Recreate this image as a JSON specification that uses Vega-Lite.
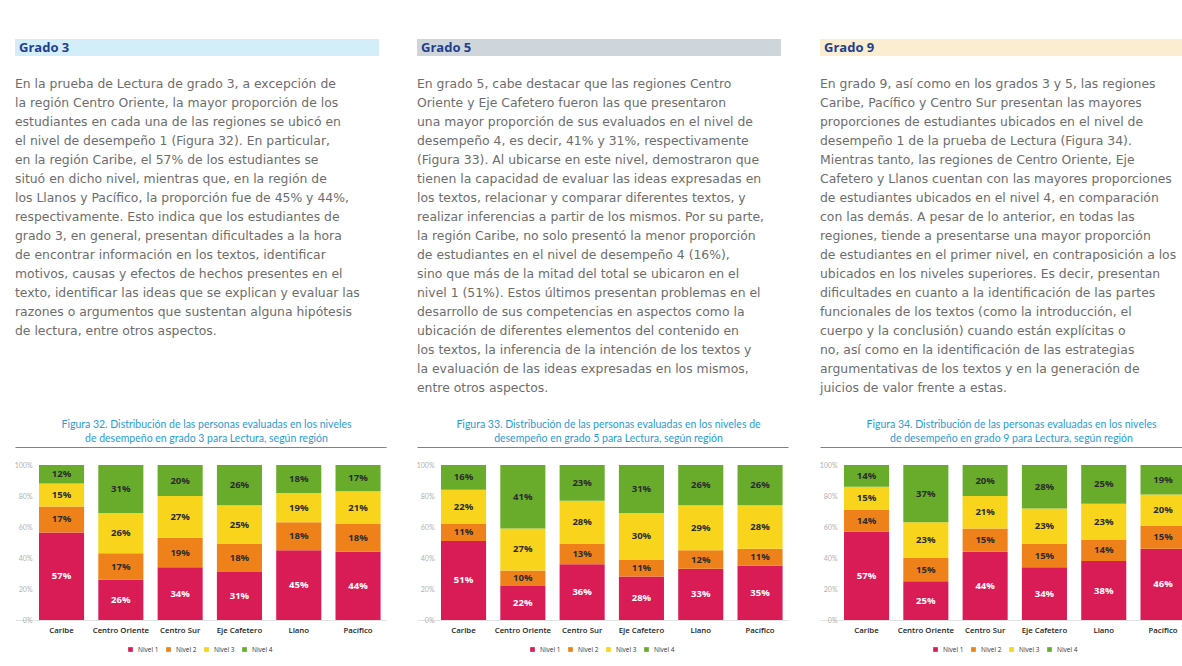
{
  "$schema": "https://vega.github.io/schema/vega-lite/v6.json",
  "background": "white",
  "padding": {"left": 14, "top": 39, "right": 0, "bottom": 0},
  "config": {"view": {"stroke": null}, "font": "Open Sans", "legend": {"layout": {"bottom": {"anchor": "middle"}}}},
  "datasets": {
    "d": [
      {"grado": 3, "region": "Caribe", "nivel": "Nivel 1", "pct": 57},
      {"grado": 3, "region": "Caribe", "nivel": "Nivel 2", "pct": 17},
      {"grado": 3, "region": "Caribe", "nivel": "Nivel 3", "pct": 15},
      {"grado": 3, "region": "Caribe", "nivel": "Nivel 4", "pct": 12},
      {"grado": 3, "region": "Centro Oriente", "nivel": "Nivel 1", "pct": 26},
      {"grado": 3, "region": "Centro Oriente", "nivel": "Nivel 2", "pct": 17},
      {"grado": 3, "region": "Centro Oriente", "nivel": "Nivel 3", "pct": 26},
      {"grado": 3, "region": "Centro Oriente", "nivel": "Nivel 4", "pct": 31},
      {"grado": 3, "region": "Centro Sur", "nivel": "Nivel 1", "pct": 34},
      {"grado": 3, "region": "Centro Sur", "nivel": "Nivel 2", "pct": 19},
      {"grado": 3, "region": "Centro Sur", "nivel": "Nivel 3", "pct": 27},
      {"grado": 3, "region": "Centro Sur", "nivel": "Nivel 4", "pct": 20},
      {"grado": 3, "region": "Eje Cafetero", "nivel": "Nivel 1", "pct": 31},
      {"grado": 3, "region": "Eje Cafetero", "nivel": "Nivel 2", "pct": 18},
      {"grado": 3, "region": "Eje Cafetero", "nivel": "Nivel 3", "pct": 25},
      {"grado": 3, "region": "Eje Cafetero", "nivel": "Nivel 4", "pct": 26},
      {"grado": 3, "region": "Llano", "nivel": "Nivel 1", "pct": 45},
      {"grado": 3, "region": "Llano", "nivel": "Nivel 2", "pct": 18},
      {"grado": 3, "region": "Llano", "nivel": "Nivel 3", "pct": 19},
      {"grado": 3, "region": "Llano", "nivel": "Nivel 4", "pct": 18},
      {"grado": 3, "region": "Pacífico", "nivel": "Nivel 1", "pct": 44},
      {"grado": 3, "region": "Pacífico", "nivel": "Nivel 2", "pct": 18},
      {"grado": 3, "region": "Pacífico", "nivel": "Nivel 3", "pct": 21},
      {"grado": 3, "region": "Pacífico", "nivel": "Nivel 4", "pct": 17},
      {"grado": 5, "region": "Caribe", "nivel": "Nivel 1", "pct": 51},
      {"grado": 5, "region": "Caribe", "nivel": "Nivel 2", "pct": 11},
      {"grado": 5, "region": "Caribe", "nivel": "Nivel 3", "pct": 22},
      {"grado": 5, "region": "Caribe", "nivel": "Nivel 4", "pct": 16},
      {"grado": 5, "region": "Centro Oriente", "nivel": "Nivel 1", "pct": 22},
      {"grado": 5, "region": "Centro Oriente", "nivel": "Nivel 2", "pct": 10},
      {"grado": 5, "region": "Centro Oriente", "nivel": "Nivel 3", "pct": 27},
      {"grado": 5, "region": "Centro Oriente", "nivel": "Nivel 4", "pct": 41},
      {"grado": 5, "region": "Centro Sur", "nivel": "Nivel 1", "pct": 36},
      {"grado": 5, "region": "Centro Sur", "nivel": "Nivel 2", "pct": 13},
      {"grado": 5, "region": "Centro Sur", "nivel": "Nivel 3", "pct": 28},
      {"grado": 5, "region": "Centro Sur", "nivel": "Nivel 4", "pct": 23},
      {"grado": 5, "region": "Eje Cafetero", "nivel": "Nivel 1", "pct": 28},
      {"grado": 5, "region": "Eje Cafetero", "nivel": "Nivel 2", "pct": 11},
      {"grado": 5, "region": "Eje Cafetero", "nivel": "Nivel 3", "pct": 30},
      {"grado": 5, "region": "Eje Cafetero", "nivel": "Nivel 4", "pct": 31},
      {"grado": 5, "region": "Llano", "nivel": "Nivel 1", "pct": 33},
      {"grado": 5, "region": "Llano", "nivel": "Nivel 2", "pct": 12},
      {"grado": 5, "region": "Llano", "nivel": "Nivel 3", "pct": 29},
      {"grado": 5, "region": "Llano", "nivel": "Nivel 4", "pct": 26},
      {"grado": 5, "region": "Pacífico", "nivel": "Nivel 1", "pct": 35},
      {"grado": 5, "region": "Pacífico", "nivel": "Nivel 2", "pct": 11},
      {"grado": 5, "region": "Pacífico", "nivel": "Nivel 3", "pct": 28},
      {"grado": 5, "region": "Pacífico", "nivel": "Nivel 4", "pct": 26},
      {"grado": 9, "region": "Caribe", "nivel": "Nivel 1", "pct": 57},
      {"grado": 9, "region": "Caribe", "nivel": "Nivel 2", "pct": 14},
      {"grado": 9, "region": "Caribe", "nivel": "Nivel 3", "pct": 15},
      {"grado": 9, "region": "Caribe", "nivel": "Nivel 4", "pct": 14},
      {"grado": 9, "region": "Centro Oriente", "nivel": "Nivel 1", "pct": 25},
      {"grado": 9, "region": "Centro Oriente", "nivel": "Nivel 2", "pct": 15},
      {"grado": 9, "region": "Centro Oriente", "nivel": "Nivel 3", "pct": 23},
      {"grado": 9, "region": "Centro Oriente", "nivel": "Nivel 4", "pct": 37},
      {"grado": 9, "region": "Centro Sur", "nivel": "Nivel 1", "pct": 44},
      {"grado": 9, "region": "Centro Sur", "nivel": "Nivel 2", "pct": 15},
      {"grado": 9, "region": "Centro Sur", "nivel": "Nivel 3", "pct": 21},
      {"grado": 9, "region": "Centro Sur", "nivel": "Nivel 4", "pct": 20},
      {"grado": 9, "region": "Eje Cafetero", "nivel": "Nivel 1", "pct": 34},
      {"grado": 9, "region": "Eje Cafetero", "nivel": "Nivel 2", "pct": 15},
      {"grado": 9, "region": "Eje Cafetero", "nivel": "Nivel 3", "pct": 23},
      {"grado": 9, "region": "Eje Cafetero", "nivel": "Nivel 4", "pct": 28},
      {"grado": 9, "region": "Llano", "nivel": "Nivel 1", "pct": 38},
      {"grado": 9, "region": "Llano", "nivel": "Nivel 2", "pct": 14},
      {"grado": 9, "region": "Llano", "nivel": "Nivel 3", "pct": 23},
      {"grado": 9, "region": "Llano", "nivel": "Nivel 4", "pct": 25},
      {"grado": 9, "region": "Pacífico", "nivel": "Nivel 1", "pct": 46},
      {"grado": 9, "region": "Pacífico", "nivel": "Nivel 2", "pct": 15},
      {"grado": 9, "region": "Pacífico", "nivel": "Nivel 3", "pct": 20},
      {"grado": 9, "region": "Pacífico", "nivel": "Nivel 4", "pct": 19}
    ]
  },
  "spacing": 30,
  "resolve": {"scale": {"color": "independent"}, "legend": {"color": "independent"}},
  "hconcat": [
    {
      "spacing": 20,
      "vconcat": [
        {
          "width": 364, "height": 17,
          "view": {"fill": "#d3eef9", "stroke": null},
          "data": {"values": [{"t": "Grado 3"}]},
          "mark": {"type": "text", "align": "left", "baseline": "middle", "font": "Open Sans", "fontWeight": "bold", "fontSize": 13, "color": "#1e3f8f", "dx": 4},
          "encoding": {"text": {"field": "t"}, "x": {"value": 0}, "y": {"value": 8.5}}
        },
        {
          "width": 364, "height": 323,
          "data": {"values": [{"t": "En la prueba de Lectura de grado 3, a excepción de\nla región Centro Oriente, la mayor proporción de los\nestudiantes en cada una de las regiones se ubicó en\nel nivel de desempeño 1 (Figura 32). En particular,\nen la región Caribe, el 57% de los estudiantes se\nsituó en dicho nivel, mientras que, en la región de\nlos Llanos y Pacífico, la proporción fue de 45% y 44%,\nrespectivamente. Esto indica que los estudiantes de\ngrado 3, en general, presentan dificultades a la hora\nde encontrar información en los textos, identificar\nmotivos, causas y efectos de hechos presentes en el\ntexto, identificar las ideas que se explican y evaluar las\nrazones o argumentos que sustentan alguna hipótesis\nde lectura, entre otros aspectos."}]},
          "mark": {"type": "text", "align": "left", "baseline": "top", "lineBreak": "\n", "lineHeight": 19, "font": "DejaVu Sans", "fontSize": 12.4, "color": "#6d6d6d"},
          "encoding": {"text": {"field": "t"}, "x": {"value": 0}, "y": {"value": 2}}
        },
        {
          "width": 371, "height": 155,
          "data": {"name": "d"},
          "transform": [
            {"filter": "datum.grado == 3"},
            {"stack": "pct", "groupby": ["region"], "sort": [{"field": "nivel", "order": "ascending"}], "offset": "normalize", "as": ["y0", "y1"]},
            {"calculate": "(datum.y0 + datum.y1) / 2", "as": "ym"},
            {"calculate": "datum.pct + '%'", "as": "label"}
          ],
          "title": {"text": ["Figura 32. Distribución de las personas evaluadas en los niveles", "de desempeño en grado 3 para Lectura, según región"], "anchor": "middle", "frame": "group", "dx": 6, "font": "Lato", "fontSize": 10.5, "fontWeight": "normal", "color": "#2a9bd7", "lineHeight": 14, "offset": 3},
          "resolve": {"axis": {"x": "independent"}},
          "layer": [
            {
              "mark": {"type": "bar"},
              "encoding": {
                "x": {"field": "region", "type": "nominal", "sort": ["Caribe", "Centro Oriente", "Centro Sur", "Eje Cafetero", "Llano", "Pacífico"], "scale": {"paddingInner": 0.24, "paddingOuter": 0.248, "align": 0.816},
                  "axis": {"title": null, "labelAngle": 0, "ticks": false, "domainColor": "#e2e2e2", "labelColor": "#222222", "labelFontSize": 7.8, "labelFontWeight": 600, "labelPadding": 6, "labelFont": "Open Sans"}},
                "y": {"field": "y0", "type": "quantitative", "scale": {"domain": [0, 1]},
                  "axis": {"title": null, "format": ".0%", "values": [0, 0.2, 0.4, 0.6, 0.8, 1], "offset": -19, "grid": false, "domain": false, "ticks": false, "labelOverlap": false, "labelAlign": "right", "labelColor": "#b0b0b0", "labelFontSize": 7, "labelPadding": 2, "labelFont": "Lato"}},
                "y2": {"field": "y1"},
                "color": {"field": "nivel", "type": "nominal", "scale": {"domain": ["Nivel 1", "Nivel 2", "Nivel 3", "Nivel 4"], "range": ["#d91c56", "#ef811b", "#f8d51c", "#69ab2b"]},
                  "legend": {"orient": "bottom", "direction": "horizontal", "title": null, "symbolType": "square", "symbolSize": 22, "labelFontSize": 6.5, "labelColor": "#333333", "columnPadding": 6, "offset": 12, "labelFont": "Open Sans"}}
              }
            },
            {
              "mark": {"type": "text", "font": "Open Sans", "fontWeight": "bold", "fontSize": 9.5, "baseline": "middle"},
              "encoding": {
                "x": {"field": "region", "type": "nominal", "sort": ["Caribe", "Centro Oriente", "Centro Sur", "Eje Cafetero", "Llano", "Pacífico"],
                  "axis": {"orient": "top", "offset": 18, "labels": false, "ticks": false, "grid": false, "title": null, "domain": true, "domainColor": "#2a9bd7", "domainWidth": 1.2}},
                "y": {"field": "ym", "type": "quantitative",
                  "axis": {"title": null, "format": ".0%", "values": [0, 0.2, 0.4, 0.6, 0.8, 1], "offset": -19, "grid": false, "domain": false, "ticks": false, "labelOverlap": false, "labelAlign": "right", "labelColor": "#b0b0b0", "labelFontSize": 7, "labelPadding": 2, "labelFont": "Lato"}},
                "text": {"field": "label"},
                "color": {"condition": {"test": "datum.nivel === 'Nivel 1'", "value": "#ffffff"}, "value": "#2b2b2b"}
              }
            }
          ]
        }
      ]
    },
    {
      "spacing": 31,
      "resolve": {"scale": {"color": "independent"}, "legend": {"color": "independent"}},
      "hconcat": [
        {
          "spacing": 20,
          "vconcat": [
            {
              "width": 364, "height": 17,
              "view": {"fill": "#ced6dc", "stroke": null},
              "data": {"values": [{"t": "Grado 5"}]},
              "mark": {"type": "text", "align": "left", "baseline": "middle", "font": "Open Sans", "fontWeight": "bold", "fontSize": 13, "color": "#1e3f8f", "dx": 4},
              "encoding": {"text": {"field": "t"}, "x": {"value": 0}, "y": {"value": 8.5}}
            },
            {
              "width": 364, "height": 323,
              "data": {"values": [{"t": "En grado 5, cabe destacar que las regiones Centro\nOriente y Eje Cafetero fueron las que presentaron\nuna mayor proporción de sus evaluados en el nivel de\ndesempeño 4, es decir, 41% y 31%, respectivamente\n(Figura 33). Al ubicarse en este nivel, demostraron que\ntienen la capacidad de evaluar las ideas expresadas en\nlos textos, relacionar y comparar diferentes textos, y\nrealizar inferencias a partir de los mismos. Por su parte,\nla región Caribe, no solo presentó la menor proporción\nde estudiantes en el nivel de desempeño 4 (16%),\nsino que más de la mitad del total se ubicaron en el\nnivel 1 (51%). Estos últimos presentan problemas en el\ndesarrollo de sus competencias en aspectos como la\nubicación de diferentes elementos del contenido en\nlos textos, la inferencia de la intención de los textos y\nla evaluación de las ideas expresadas en los mismos,\nentre otros aspectos."}]},
              "mark": {"type": "text", "align": "left", "baseline": "top", "lineBreak": "\n", "lineHeight": 19, "font": "DejaVu Sans", "fontSize": 12.4, "color": "#6d6d6d"},
              "encoding": {"text": {"field": "t"}, "x": {"value": 0}, "y": {"value": 2}}
            },
            {
              "width": 371, "height": 155,
              "data": {"name": "d"},
              "transform": [
                {"filter": "datum.grado == 5"},
                {"stack": "pct", "groupby": ["region"], "sort": [{"field": "nivel", "order": "ascending"}], "offset": "normalize", "as": ["y0", "y1"]},
                {"calculate": "(datum.y0 + datum.y1) / 2", "as": "ym"},
                {"calculate": "datum.pct + '%'", "as": "label"}
              ],
              "title": {"text": ["Figura 33. Distribución de las personas evaluadas en los niveles de", "desempeño en grado 5 para Lectura, según región"], "anchor": "middle", "frame": "group", "dx": 6, "font": "Lato", "fontSize": 10.5, "fontWeight": "normal", "color": "#2a9bd7", "lineHeight": 14, "offset": 3},
              "resolve": {"axis": {"x": "independent"}},
              "layer": [
                {
                  "mark": {"type": "bar"},
                  "encoding": {
                    "x": {"field": "region", "type": "nominal", "sort": ["Caribe", "Centro Oriente", "Centro Sur", "Eje Cafetero", "Llano", "Pacífico"], "scale": {"paddingInner": 0.24, "paddingOuter": 0.248, "align": 0.816},
                      "axis": {"title": null, "labelAngle": 0, "ticks": false, "domainColor": "#e2e2e2", "labelColor": "#222222", "labelFontSize": 7.8, "labelFontWeight": 600, "labelPadding": 6, "labelFont": "Open Sans"}},
                    "y": {"field": "y0", "type": "quantitative", "scale": {"domain": [0, 1]},
                      "axis": {"title": null, "format": ".0%", "values": [0, 0.2, 0.4, 0.6, 0.8, 1], "offset": -19, "grid": false, "domain": false, "ticks": false, "labelOverlap": false, "labelAlign": "right", "labelColor": "#b0b0b0", "labelFontSize": 7, "labelPadding": 2, "labelFont": "Lato"}},
                    "y2": {"field": "y1"},
                    "color": {"field": "nivel", "type": "nominal", "scale": {"domain": ["Nivel 1", "Nivel 2", "Nivel 3", "Nivel 4"], "range": ["#d91c56", "#ef811b", "#f8d51c", "#69ab2b"]},
                      "legend": {"orient": "bottom", "direction": "horizontal", "title": null, "symbolType": "square", "symbolSize": 22, "labelFontSize": 6.5, "labelColor": "#333333", "columnPadding": 6, "offset": 12, "labelFont": "Open Sans"}}
                  }
                },
                {
                  "mark": {"type": "text", "font": "Open Sans", "fontWeight": "bold", "fontSize": 9.5, "baseline": "middle"},
                  "encoding": {
                    "x": {"field": "region", "type": "nominal", "sort": ["Caribe", "Centro Oriente", "Centro Sur", "Eje Cafetero", "Llano", "Pacífico"],
                      "axis": {"orient": "top", "offset": 18, "labels": false, "ticks": false, "grid": false, "title": null, "domain": true, "domainColor": "#2a9bd7", "domainWidth": 1.2}},
                    "y": {"field": "ym", "type": "quantitative",
                      "axis": {"title": null, "format": ".0%", "values": [0, 0.2, 0.4, 0.6, 0.8, 1], "offset": -19, "grid": false, "domain": false, "ticks": false, "labelOverlap": false, "labelAlign": "right", "labelColor": "#b0b0b0", "labelFontSize": 7, "labelPadding": 2, "labelFont": "Lato"}},
                    "text": {"field": "label"},
                    "color": {"condition": {"test": "datum.nivel === 'Nivel 1'", "value": "#ffffff"}, "value": "#2b2b2b"}
                  }
                }
              ]
            }
          ]
        },
        {
          "spacing": 20,
          "vconcat": [
            {
              "width": 364, "height": 17,
              "view": {"fill": "#faedd2", "stroke": null},
              "data": {"values": [{"t": "Grado 9"}]},
              "mark": {"type": "text", "align": "left", "baseline": "middle", "font": "Open Sans", "fontWeight": "bold", "fontSize": 13, "color": "#1e3f8f", "dx": 4},
              "encoding": {"text": {"field": "t"}, "x": {"value": 0}, "y": {"value": 8.5}}
            },
            {
              "width": 364, "height": 323,
              "data": {"values": [{"t": "En grado 9, así como en los grados 3 y 5, las regiones\nCaribe, Pacífico y Centro Sur presentan las mayores\nproporciones de estudiantes ubicados en el nivel de\ndesempeño 1 de la prueba de Lectura (Figura 34).\nMientras tanto, las regiones de Centro Oriente, Eje\nCafetero y Llanos cuentan con las mayores proporciones\nde estudiantes ubicados en el nivel 4, en comparación\ncon las demás. A pesar de lo anterior, en todas las\nregiones, tiende a presentarse una mayor proporción\nde estudiantes en el primer nivel, en contraposición a los\nubicados en los niveles superiores. Es decir, presentan\ndificultades en cuanto a la identificación de las partes\nfuncionales de los textos (como la introducción, el\ncuerpo y la conclusión) cuando están explícitas o\nno, así como en la identificación de las estrategias\nargumentativas de los textos y en la generación de\njuicios de valor frente a estas."}]},
              "mark": {"type": "text", "align": "left", "baseline": "top", "lineBreak": "\n", "lineHeight": 19, "font": "DejaVu Sans", "fontSize": 12.4, "color": "#6d6d6d"},
              "encoding": {"text": {"field": "t"}, "x": {"value": 0}, "y": {"value": 2}}
            },
            {
              "width": 371, "height": 155,
              "data": {"name": "d"},
              "transform": [
                {"filter": "datum.grado == 9"},
                {"stack": "pct", "groupby": ["region"], "sort": [{"field": "nivel", "order": "ascending"}], "offset": "normalize", "as": ["y0", "y1"]},
                {"calculate": "(datum.y0 + datum.y1) / 2", "as": "ym"},
                {"calculate": "datum.pct + '%'", "as": "label"}
              ],
              "title": {"text": ["Figura 34. Distribución de las personas evaluadas en los niveles", "de desempeño en grado 9 para Lectura, según región"], "anchor": "middle", "frame": "group", "dx": 6, "font": "Lato", "fontSize": 10.5, "fontWeight": "normal", "color": "#2a9bd7", "lineHeight": 14, "offset": 3},
              "resolve": {"axis": {"x": "independent"}},
              "layer": [
                {
                  "mark": {"type": "bar"},
                  "encoding": {
                    "x": {"field": "region", "type": "nominal", "sort": ["Caribe", "Centro Oriente", "Centro Sur", "Eje Cafetero", "Llano", "Pacífico"], "scale": {"paddingInner": 0.24, "paddingOuter": 0.248, "align": 0.816},
                      "axis": {"title": null, "labelAngle": 0, "ticks": false, "domainColor": "#e2e2e2", "labelColor": "#222222", "labelFontSize": 7.8, "labelFontWeight": 600, "labelPadding": 6, "labelFont": "Open Sans"}},
                    "y": {"field": "y0", "type": "quantitative", "scale": {"domain": [0, 1]},
                      "axis": {"title": null, "format": ".0%", "values": [0, 0.2, 0.4, 0.6, 0.8, 1], "offset": -19, "grid": false, "domain": false, "ticks": false, "labelOverlap": false, "labelAlign": "right", "labelColor": "#b0b0b0", "labelFontSize": 7, "labelPadding": 2, "labelFont": "Lato"}},
                    "y2": {"field": "y1"},
                    "color": {"field": "nivel", "type": "nominal", "scale": {"domain": ["Nivel 1", "Nivel 2", "Nivel 3", "Nivel 4"], "range": ["#d91c56", "#ef811b", "#f8d51c", "#69ab2b"]},
                      "legend": {"orient": "bottom", "direction": "horizontal", "title": null, "symbolType": "square", "symbolSize": 22, "labelFontSize": 6.5, "labelColor": "#333333", "columnPadding": 6, "offset": 12, "labelFont": "Open Sans"}}
                  }
                },
                {
                  "mark": {"type": "text", "font": "Open Sans", "fontWeight": "bold", "fontSize": 9.5, "baseline": "middle"},
                  "encoding": {
                    "x": {"field": "region", "type": "nominal", "sort": ["Caribe", "Centro Oriente", "Centro Sur", "Eje Cafetero", "Llano", "Pacífico"],
                      "axis": {"orient": "top", "offset": 18, "labels": false, "ticks": false, "grid": false, "title": null, "domain": true, "domainColor": "#2a9bd7", "domainWidth": 1.2}},
                    "y": {"field": "ym", "type": "quantitative",
                      "axis": {"title": null, "format": ".0%", "values": [0, 0.2, 0.4, 0.6, 0.8, 1], "offset": -19, "grid": false, "domain": false, "ticks": false, "labelOverlap": false, "labelAlign": "right", "labelColor": "#b0b0b0", "labelFontSize": 7, "labelPadding": 2, "labelFont": "Lato"}},
                    "text": {"field": "label"},
                    "color": {"condition": {"test": "datum.nivel === 'Nivel 1'", "value": "#ffffff"}, "value": "#2b2b2b"}
                  }
                }
              ]
            }
          ]
        }
      ]
    }
  ]
}
